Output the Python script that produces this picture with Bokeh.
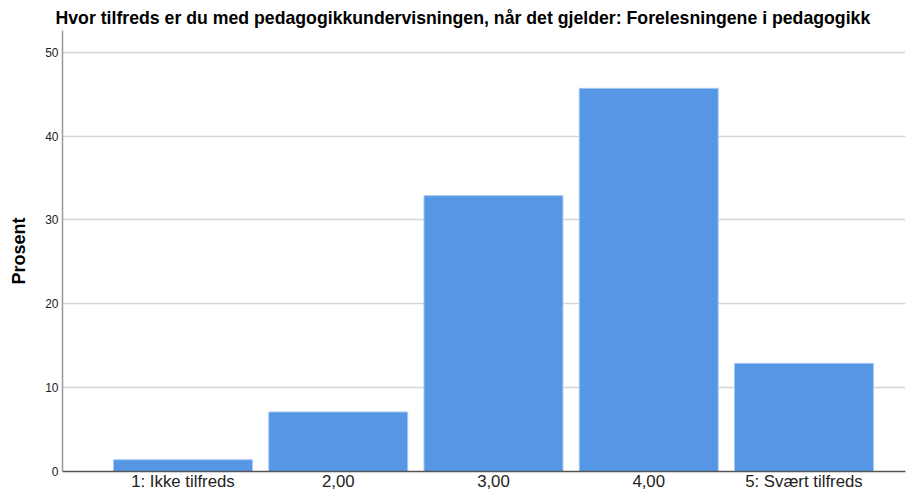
from bokeh.plotting import figure
from bokeh.models import Range1d, FixedTicker
from bokeh.embed import file_html
from bokeh.resources import INLINE

# Data
categories = ["1: Ikke tilfreds", "2,00", "3,00", "4,00", "5: Svært tilfreds"]
positions = [1, 2, 3, 4, 5]
percent = [1.4, 7.1, 32.9, 45.7, 12.9]
y_ticks = [0, 10, 20, 30, 40, 50]

title_text = "Hvor tilfreds er du med pedagogikkundervisningen, når det gjelder: Forelesningene i pedagogikk"

FONT = "Liberation Sans"

p = figure(width=906, height=493, output_backend="svg", toolbar_location=None,
           x_range=Range1d(0.224, 5.654), y_range=Range1d(0, 52.6),
           min_border_left=62, min_border_right=1, min_border_top=30, min_border_bottom=21)

p.vbar(x=positions, top=percent, width=0.895, fill_color="#5596E5",
       line_color="#A8C8F2", line_width=1)

p.title.text = title_text
p.title.align = "left"
p.title.text_font = FONT
p.title.text_font_size = "17.7px"
p.title.text_font_style = "bold"
p.title.text_color = "#000000"
p.title.offset = -7
p.title.standoff = 6

p.outline_line_color = None
p.background_fill_color = "white"
p.border_fill_color = "white"

# x axis
p.xaxis.ticker = FixedTicker(ticks=positions)
p.xaxis.major_label_overrides = {pos: lab for pos, lab in zip(positions, categories)}
p.xaxis.major_label_text_font = FONT
p.xaxis.major_label_text_font_size = "16.8px"
p.xaxis.major_label_text_color = "#222222"
p.xaxis.major_tick_line_color = None
p.xaxis.minor_tick_line_color = None
p.xaxis.major_tick_out = 0
p.xaxis.major_tick_in = 0
p.xaxis.minor_tick_out = 0
p.xaxis.minor_tick_in = 0
p.xaxis.axis_line_color = "#555555"
p.xaxis.axis_line_width = 1.5
p.xaxis.major_label_standoff = 0

# y axis
p.yaxis.ticker = FixedTicker(ticks=y_ticks)
p.yaxis.axis_label = "Prosent"
p.yaxis.axis_label_text_font = FONT
p.yaxis.axis_label_text_font_size = "18px"
p.yaxis.axis_label_text_font_style = "bold"
p.yaxis.axis_label_text_color = "#000000"
p.yaxis.axis_label_standoff = 13
p.yaxis.major_label_text_font = FONT
p.yaxis.major_label_text_font_size = "12px"
p.yaxis.major_label_text_color = "#222222"
p.yaxis.major_tick_line_color = None
p.yaxis.minor_tick_line_color = None
p.yaxis.major_tick_out = 0
p.yaxis.major_tick_in = 0
p.yaxis.minor_tick_out = 0
p.yaxis.minor_tick_in = 0
p.yaxis.axis_line_color = "#999999"
p.yaxis.axis_line_width = 1.5
p.yaxis.major_label_standoff = 4

p.xgrid.grid_line_color = None
p.ygrid.grid_line_color = "#D6D6D6"
p.ygrid.grid_line_width = 1.5

open("out.html", "w").write(file_html(p, INLINE))
